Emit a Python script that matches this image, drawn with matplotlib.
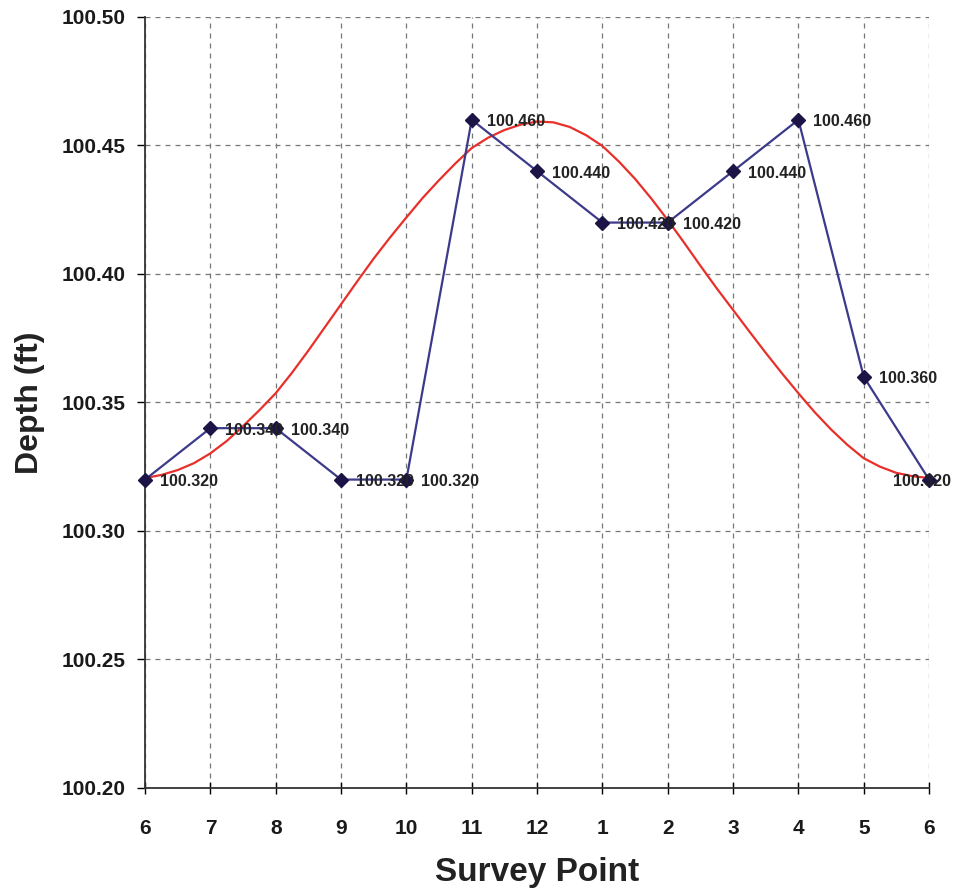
import matplotlib.pyplot as plt

plt.rcParams['font.family'] = ['Liberation Sans', 'DejaVu Sans']

# survey points (clock-style labels along the x axis)
point_labels = ['6', '7', '8', '9', '10', '11', '12', '1', '2', '3', '4', '5', '6']
depths = [100.32, 100.34, 100.34, 100.32, 100.32, 100.46, 100.44,
          100.42, 100.42, 100.44, 100.46, 100.36, 100.32]

trend_x = [0, 0.25, 0.5, 0.75, 1, 1.25, 1.5, 1.75, 2, 2.25, 2.5, 2.75,
           3, 3.25, 3.5, 3.75, 4, 4.25, 4.5, 4.75, 5, 5.25, 5.5, 5.75,
           6, 6.25, 6.5, 6.75, 7, 7.25, 7.5, 7.75, 8, 8.25, 8.5, 8.75,
           9, 9.25, 9.5, 9.75, 10, 10.25, 10.5, 10.75, 11, 11.25, 11.5, 11.75, 12]
trend_y = [100.3206, 100.3218, 100.3237, 100.3264, 100.3302, 100.3350,
           100.3408, 100.3470, 100.3536, 100.3616, 100.3702, 100.3792,
           100.3882, 100.3972, 100.4060, 100.4142, 100.4220, 100.4296,
           100.4365, 100.4430, 100.4490, 100.4530, 100.4560, 100.4581,
           100.4593, 100.4590, 100.4572, 100.4540, 100.4498, 100.4438,
           100.4370, 100.4293, 100.4210, 100.4122, 100.4032, 100.3944,
           100.3860, 100.3776, 100.3693, 100.3613, 100.3536, 100.3462,
           100.3395, 100.3335, 100.3283, 100.3250, 100.3226, 100.3213,
           100.3206]

fig = plt.figure(figsize=(9.58, 8.92), dpi=100)
ax = fig.add_axes([0.1514, 0.1166, 0.8184, 0.8644])

xs = list(range(len(depths)))
ax.plot(trend_x, trend_y, color='#e8302a', linewidth=1.6, zorder=2)
ax.plot(xs, depths, color='#3c3a8a', linewidth=1.6, marker='D',
        markersize=7, markerfacecolor='#1c1446', markeredgecolor='#1c1446',
        zorder=3, clip_on=False)

for i, d in enumerate(depths):
    dx = 15 if i < len(depths) - 1 else -36
    ax.annotate(f'{d:.3f}', (i, d), xytext=(dx, -2), textcoords='offset pixels',
                ha='left', va='center', fontsize=11.5, fontweight='bold',
                color='#222222', zorder=4, annotation_clip=False)

ax.set_xlim(0, 12)
ax.set_ylim(100.20, 100.50)
ax.set_xticks(xs)
ax.set_xticklabels(point_labels)
ax.set_yticks([100.20, 100.25, 100.30, 100.35, 100.40, 100.45, 100.50])
ax.set_yticklabels([f'{v:.2f}' for v in ax.get_yticks()])

ax.grid(True, linestyle=(0, (4, 4)), color='#777777', linewidth=0.9)
ax.spines['top'].set_visible(False)
ax.spines['right'].set_visible(False)
for s in ['left', 'bottom']:
    ax.spines[s].set_color('#333333')
    ax.spines[s].set_linewidth(1.3)

ax.tick_params(axis='x', direction='inout', length=8, width=1, pad=18,
               labelsize=15)
ax.tick_params(axis='y', direction='out', length=6, width=1, pad=8,
               labelsize=15)
for lbl in ax.get_xticklabels() + ax.get_yticklabels():
    lbl.set_fontweight('bold')
    lbl.set_color('#1a1a1a')

ax.set_xlabel('Survey Point', fontsize=24, fontweight='bold', color='#222222', labelpad=14)
ax.set_ylabel('Depth (ft)', fontsize=23, fontweight='bold', color='#222222', labelpad=12)
ax.set_axisbelow(True)

plt.savefig('out.png', dpi=100)
plt.close()
